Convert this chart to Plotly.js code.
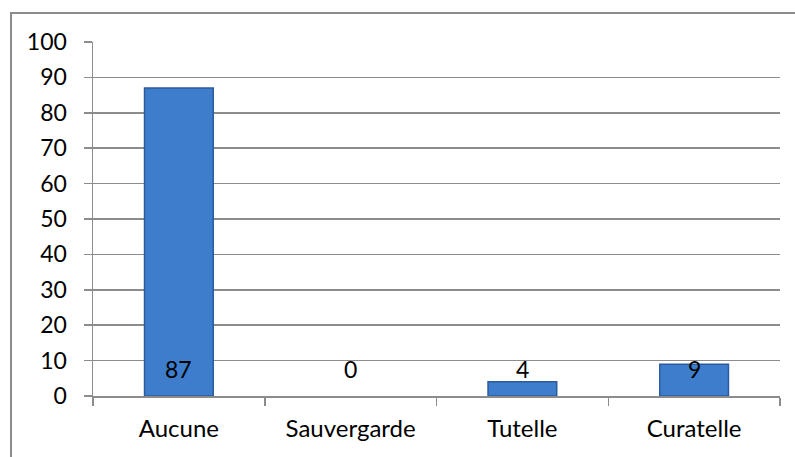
<!DOCTYPE html>
<html>
<head>
<meta charset="utf-8">
<script src="https://cdn.plot.ly/plotly-3.0.1.min.js"></script>
<style>
  html, body { margin: 0; padding: 0; background: #fff; }
  #wrap { position: relative; width: 795px; height: 457px; }
  #chart { position: absolute; left: 0; top: 0; width: 795px; height: 457px; }
  #frame { position: absolute; left: 10px; top: 12px; right: 0; bottom: 0;
           border-top: 2px solid #8c8c8c; border-left: 2px solid #8c8c8c;
           pointer-events: none; }
</style>
</head>
<body>
<div id="wrap">
  <div id="chart"></div>
  <div id="frame"></div>
</div>
<script>
const categories = ["Aucune", "Sauvergarde", "Tutelle", "Curatelle"];
const values = [87, 0, 4, 9];
const yTicks = [0, 10, 20, 30, 40, 50, 60, 70, 80, 90, 100];

const gray = "#8c8c8c";
const font = "Lato, 'Open Sans', sans-serif";

const trace = {
  type: "bar",
  x: categories,
  y: values,
  marker: {
    color: "#3d7dcc",
    line: { color: "#2b5b9c", width: values.map(v => v > 0 ? 1.5 : 0) }
  },
  hoverinfo: "x+y"
};

const annotations = categories.map((c, i) => ({
  x: c, y: 0, xref: "x", yref: "y",
  text: String(values[i]),
  showarrow: false,
  yanchor: "bottom",
  yshift: 11,
  font: { family: font, size: 23, color: "#000" }
}));

const layout = {
  width: 795, height: 457,
  margin: { l: 93, r: 15, t: 42, b: 61 },
  paper_bgcolor: "#fff",
  plot_bgcolor: "#fff",
  showlegend: false,
  bargap: 0.6,
  font: { family: font, size: 24, color: "#000" },
  xaxis: {
    type: "category",
    showline: true, linecolor: gray, linewidth: 1.5,
    ticks: "outside", ticklen: 8, tickcolor: gray, tickwidth: 1.5,
    tickson: "boundaries",
    showgrid: false,
    ticklabelstandoff: 11,
    tickfont: { family: font, size: 24, color: "#000" }
  },
  yaxis: {
    range: [0, 100],
    tickvals: yTicks,
    ticktext: yTicks.map(String),
    showline: true, linecolor: gray, linewidth: 1.5,
    ticks: "outside", ticklen: 8, tickcolor: gray, tickwidth: 1.5,
    showgrid: true, gridcolor: gray, gridwidth: 1.5,
    zeroline: false,
    ticklabelstandoff: 12,
    tickfont: { family: font, size: 23, color: "#000" }
  },
  annotations: annotations
};

Plotly.newPlot("chart", [trace], layout, { displayModeBar: false, staticPlot: true });
</script>
</body>
</html>
